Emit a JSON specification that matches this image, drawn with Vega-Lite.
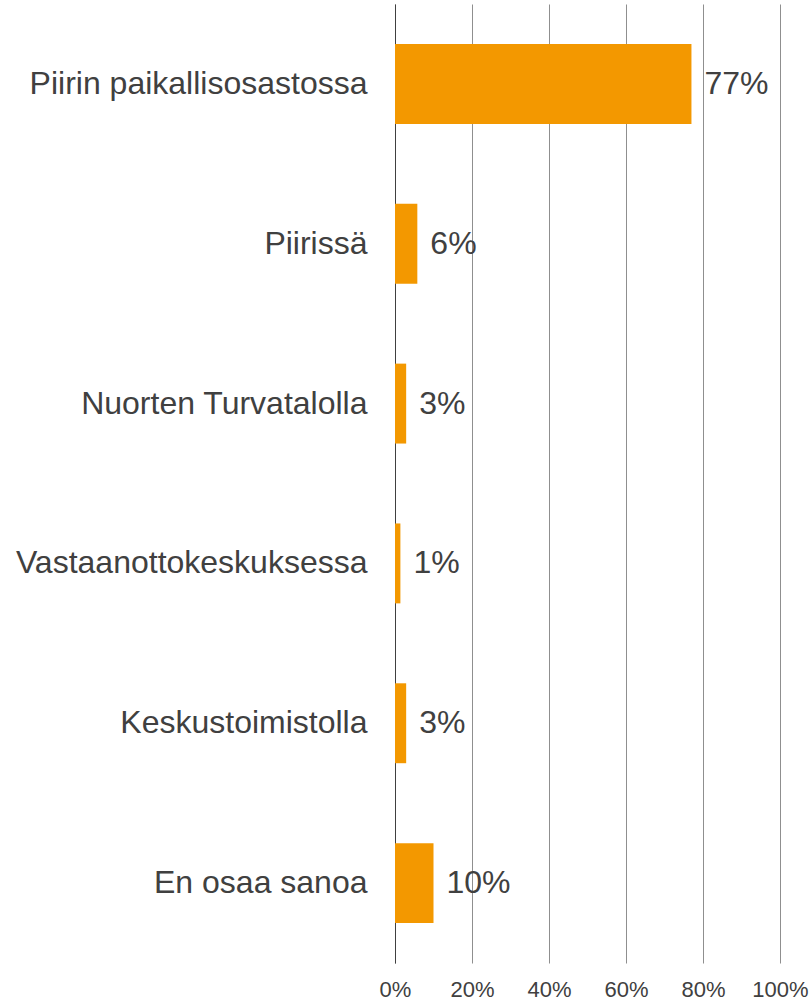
{
  "$schema": "https://vega.github.io/schema/vega-lite/v6.json",
  "width": 385,
  "height": 959,
  "autosize": {"type": "none"},
  "padding": {"left": 395, "top": 4, "right": 32, "bottom": 39},
  "background": "white",
  "config": {
    "view": {"stroke": null},
    "font": "Liberation Sans"
  },
  "data": {
    "values": [
      {"category": "Piirin paikallisosastossa", "value": 0.77},
      {"category": "Piirissä", "value": 0.058},
      {"category": "Nuorten Turvatalolla", "value": 0.029},
      {"category": "Vastaanottokeskuksessa", "value": 0.014},
      {"category": "Keskustoimistolla", "value": 0.029},
      {"category": "En osaa sanoa", "value": 0.10}
    ]
  },
  "encoding": {
    "y": {
      "field": "category",
      "type": "nominal",
      "sort": null,
      "scale": {"paddingInner": 0.5, "paddingOuter": 0.25},
      "axis": {
        "title": null,
        "ticks": false,
        "domain": true,
        "domainColor": "#404040",
        "domainWidth": 1,
        "labelFont": "Liberation Sans",
        "labelFontSize": 32,
        "labelColor": "#404040",
        "labelPadding": 28,
        "labelLimit": 0
      }
    },
    "x": {
      "field": "value",
      "type": "quantitative",
      "scale": {"domain": [0, 1], "nice": false},
      "axis": {
        "title": null,
        "values": [0, 0.2, 0.4, 0.6, 0.8, 1],
        "format": ".0%",
        "grid": true,
        "gridColor": "#8f8f8f",
        "gridWidth": 1,
        "domain": false,
        "ticks": false,
        "labelOverlap": false,
        "labelFlush": false,
        "labelBound": false,
        "labelFont": "Liberation Sans",
        "labelFontSize": 22,
        "labelColor": "#404040",
        "labelPadding": 16
      }
    }
  },
  "layer": [
    {
      "mark": {"type": "bar", "color": "#f39800"}
    },
    {
      "mark": {
        "type": "text",
        "align": "left",
        "baseline": "middle",
        "dx": 13,
        "fontSize": 32,
        "font": "Liberation Sans",
        "color": "#404040"
      },
      "encoding": {
        "text": {"field": "value", "type": "quantitative", "format": ".0%"}
      }
    }
  ]
}
